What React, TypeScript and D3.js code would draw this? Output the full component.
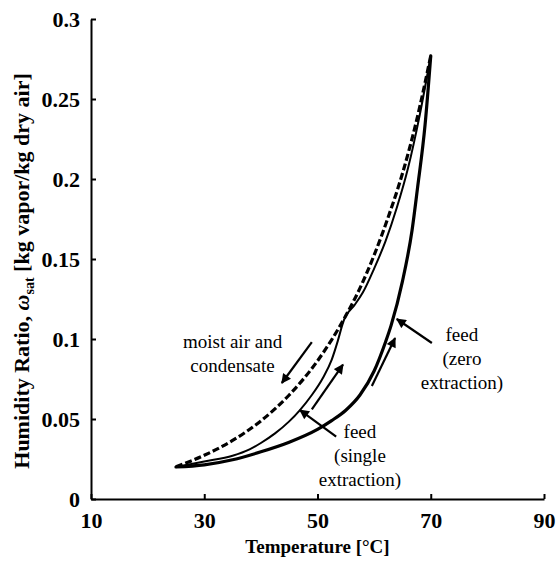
import { useEffect, useRef } from 'react'
import * as d3 from 'd3'

// saturated moist air (dashed)
const satTemp = [25, 30, 35, 40, 45, 50, 52.5, 55, 57.5, 60, 62.5, 65, 67.5, 70]
const satOmega = [0.0201, 0.0273, 0.0366, 0.0488, 0.065, 0.0863, 0.0995, 0.1146, 0.1318, 0.1524, 0.1763, 0.2034, 0.2366, 0.277]

// feed, single extraction (thin)
const singleTemp = [25, 30, 35, 38, 40, 42.5, 45, 46.9, 49, 51, 52.5, 53.6, 54.4, 54.8, 56.5, 58, 60, 62, 64, 66, 68, 70]
const singleOmega = [0.02, 0.0235, 0.027, 0.031, 0.035, 0.041, 0.0485, 0.0556, 0.065, 0.076, 0.087, 0.099, 0.109, 0.113, 0.121, 0.129, 0.144, 0.161, 0.182, 0.207, 0.239, 0.277]

// feed, zero extraction (thick)
const zeroTemp = [25, 30, 35, 40, 45, 50, 52.5, 55, 57.5, 60, 62, 63, 65, 66.7, 67.65, 69, 70]
const zeroOmega = [0.02, 0.0213, 0.0245, 0.0295, 0.0355, 0.0435, 0.049, 0.0555, 0.065, 0.08, 0.098, 0.1085, 0.136, 0.168, 0.194, 0.234, 0.277]

const xTicks = [10, 30, 50, 70, 90]
const yTicks = [0, 0.05, 0.1, 0.15, 0.2, 0.25, 0.3]

// arrows: [fromT, fromW, toT, toW]
const arrows = [
  [49.0, 0.098, 43.7, 0.0725],
  [49.0, 0.056, 54.5, 0.084],
  [59.6, 0.0706, 63.7, 0.1006],
  [53.3, 0.039, 46.9, 0.0556],
  [70.2, 0.0975, 64.0, 0.1125],
]

// labels: [T, omega, lines]
const labels: [number, number, string[]][] = [
  [35.0, 0.0944, ['moist air and', 'condensate']],
  [57.5, 0.038, ['feed', '(single', 'extraction)']],
  [75.5, 0.0985, ['feed', '(zero', 'extraction)']],
]

export default function App() {
  const ref = useRef<SVGSVGElement>(null)

  useEffect(() => {
    if (!ref.current) return
    const width = 557
    const height = 562
    const margin = { top: 19, right: 13, bottom: 63, left: 91 }
    const innerW = width - margin.left - margin.right
    const innerH = height - margin.top - margin.bottom
    const font = "'Liberation Serif', 'Times New Roman', Times, 'DejaVu Serif', serif"

    d3.select(ref.current).selectAll('*').remove()
    const svg = d3.select(ref.current).attr('width', width).attr('height', height)
      .style('font-family', font)
    const g = svg.append('g').attr('transform', `translate(${margin.left},${margin.top})`)

    const x = d3.scaleLinear().domain([10, 90]).range([0, innerW])
    const y = d3.scaleLinear().domain([0, 0.3]).range([innerH, 0])

    const line = d3
      .line<[number, number]>()
      .x((d) => x(d[0]))
      .y((d) => y(d[1]))
      .curve(d3.curveMonotoneX)

    const series = [
      { t: zeroTemp, w: zeroOmega, sw: 3.2, dash: null, cap: 'round' },
      { t: singleTemp, w: singleOmega, sw: 2, dash: null, cap: 'round' },
      { t: satTemp, w: satOmega, sw: 3.2, dash: '7,3', cap: 'butt' },
    ]
    series.forEach((s) => {
      g.append('path')
        .datum(s.t.map((t, i) => [t, s.w[i]] as [number, number]))
        .attr('d', line)
        .attr('fill', 'none')
        .attr('stroke', '#000')
        .attr('stroke-width', s.sw)
        .attr('stroke-dasharray', s.dash)
        .attr('stroke-linecap', s.cap)
    })

    const styleAxis = (s: any) => {
      s.attr('font-family', null)
      s.select('.domain').attr('stroke', '#000').attr('stroke-width', 2)
      s.selectAll('.tick line').attr('stroke', '#000').attr('stroke-width', 2)
      s.selectAll('.tick text').attr('fill', '#000').style('font-size', '22px').style('font-weight', 'bold').style('font-family', font)
    }

    g.append('g')
      .attr('transform', `translate(0,${innerH})`)
      .call(d3.axisBottom(x).tickValues(xTicks).tickSize(-5).tickPadding(13).tickSizeOuter(0))
      .call(styleAxis)

    g.append('g')
      .call(
        d3.axisLeft(y).tickValues(yTicks).tickSize(-5).tickPadding(11).tickSizeOuter(0)
          .tickFormat((d) => String(+(+d).toFixed(2)))
      )
      .call(styleAxis)

    // axis titles
    svg.append('text')
      .attr('x', margin.left + x(50))
      .attr('y', 553)
      .attr('text-anchor', 'middle')
      .style('font-family', font).style('font-size', '19px').style('font-weight', 'bold')
      .text('Temperature [°C]')

    const yt = svg.append('text')
      .attr('transform', `translate(29,${margin.top + innerH / 2 + 12}) rotate(-90)`)
      .attr('text-anchor', 'middle')
      .style('font-family', font).style('font-size', '22px').style('font-weight', 'bold')
    yt.append('tspan').text('Humidity Ratio, ')
    yt.append('tspan').style('font-style', 'italic').text('ω')
    yt.append('tspan').style('font-size', '14px').attr('dy', 5).text('sat')
    yt.append('tspan').attr('dy', -5).text(' [kg vapor/kg dry air]')

    // arrows
    svg.append('defs').append('marker')
      .attr('id', 'head')
      .attr('viewBox', '0 0 10 10')
      .attr('refX', 9).attr('refY', 5)
      .attr('markerWidth', 5.5).attr('markerHeight', 4.5)
      .attr('markerUnits', 'strokeWidth')
      .attr('orient', 'auto')
      .append('path').attr('d', 'M0,0L10,5L0,10Z').attr('fill', '#000')

    arrows.forEach((a) => {
      g.append('line')
        .attr('x1', x(a[0])).attr('y1', y(a[1]))
        .attr('x2', x(a[2])).attr('y2', y(a[3]))
        .attr('stroke', '#000').attr('stroke-width', 2.2)
        .attr('marker-end', 'url(#head)')
    })

    labels.forEach(([t, w, lines]) => {
      const txt = g.append('text')
        .attr('x', x(t)).attr('y', y(w))
        .attr('text-anchor', 'middle')
        .style('font-family', font).style('font-size', '19px')
      lines.forEach((l, i) => {
        txt.append('tspan').attr('x', x(t)).attr('dy', i === 0 ? 0 : 24).text(l)
      })
    })
  }, [])

  return (
    <div style={{ position: 'absolute', left: 0, top: 0, background: '#fff' }}>
      <svg ref={ref} style={{ display: 'block' }} />
    </div>
  )
}
